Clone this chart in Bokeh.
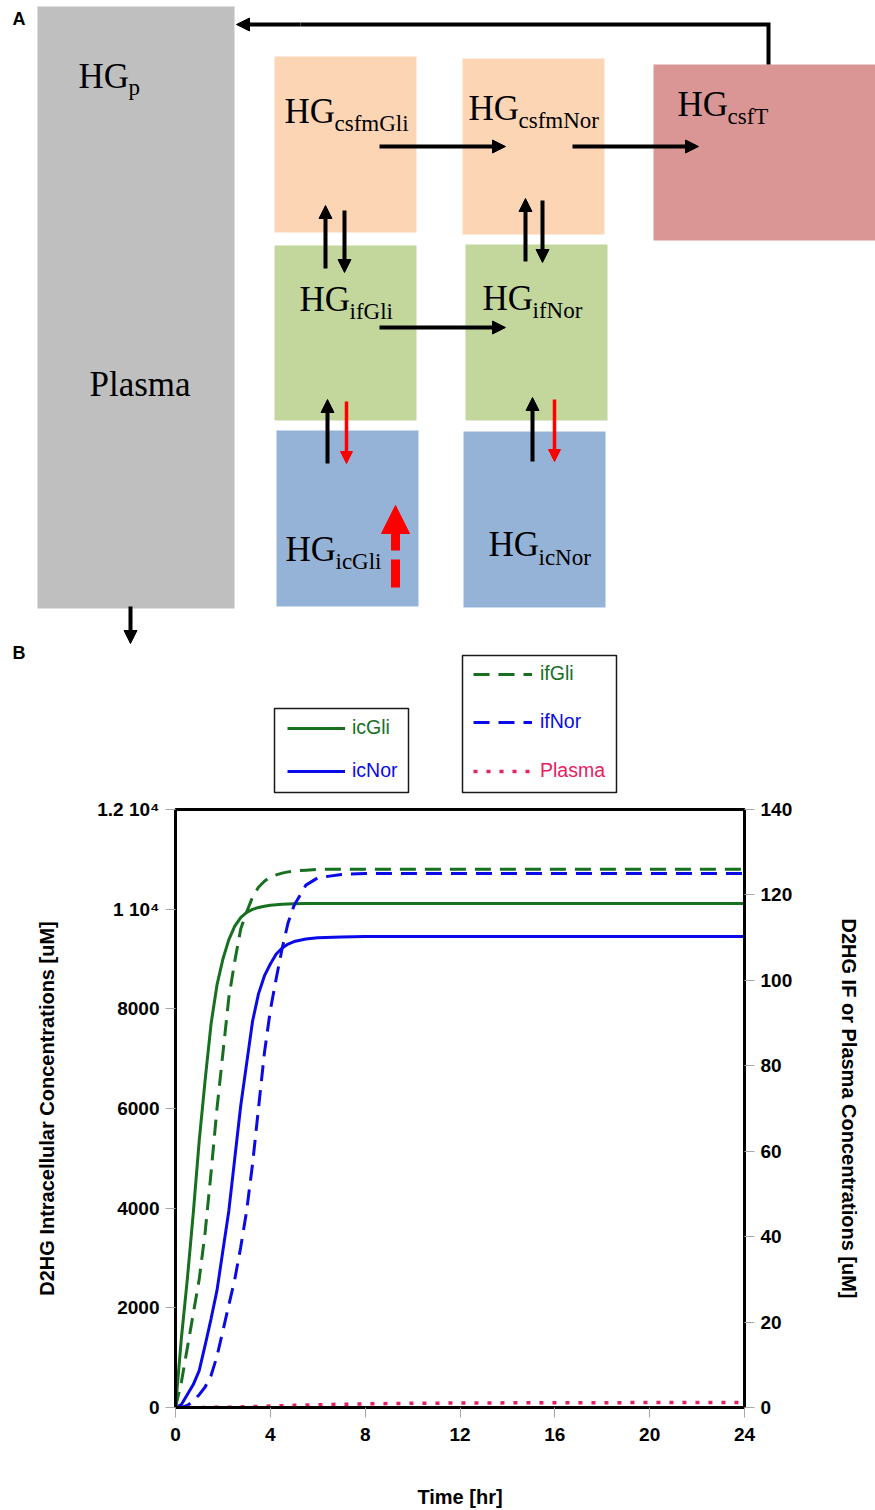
from bokeh.plotting import figure
from bokeh.models import (Range1d, LinearAxis, Arrow, NormalHead, Legend,
                          LegendItem, FixedTicker)
from bokeh.core.properties import value
from bokeh.embed import file_html
from bokeh.resources import INLINE

# ---------------- data (panel B) ----------------
time_hr = [0, 0.25, 0.5, 0.75, 1, 1.25, 1.5, 1.75, 2, 2.25, 2.5, 2.75, 3, 3.25,
           3.5, 3.75, 4, 4.25, 4.5, 4.75, 5, 5.5, 6, 7, 8, 10, 12, 16, 20, 24]
ic_gli = [0, 1400, 2580, 3900, 5350, 6570, 7700, 8480, 9000, 9390, 9660, 9830,
          9935, 9995, 10035, 10060, 10080, 10090, 10100, 10105, 10110, 10113,
          10115, 10115, 10115, 10115, 10115, 10115, 10115, 10115]
ic_nor = [0, 60, 260, 460, 740, 1250, 1780, 2350, 3150, 3950, 5000, 6050, 6900,
          7750, 8300, 8660, 8900, 9100, 9220, 9300, 9350, 9400, 9425, 9440,
          9450, 9450, 9450, 9450, 9450, 9450]
if_gli = [0, 6, 14, 22, 30, 41, 55, 70, 83, 96, 104.5, 112, 116, 119.5, 121.8,
          123.2, 124.2, 124.7, 125.1, 125.4, 125.6, 125.8, 126, 126, 126, 126,
          126, 126, 126, 126]
if_nor = [0, 0, 0.5, 1.5, 3.0, 4.8, 7.5, 12, 18, 24, 30, 37.5, 46, 57, 70, 83,
          93, 100.5, 107.5, 113.5, 117.5, 122.3, 124, 124.8, 125, 125, 125, 125,
          125, 125]
plasma = [0, 0, 0, 0, 0.01, 0.02, 0.03, 0.04, 0.06, 0.08, 0.1, 0.13, 0.16, 0.2,
          0.24, 0.28, 0.33, 0.37, 0.41, 0.45, 0.5, 0.58, 0.65, 0.76, 0.85, 0.98,
          1.05, 1.12, 1.15, 1.17]

x_ticks = [0, 4, 8, 12, 16, 20, 24]
left_ticks = [0, 2000, 4000, 6000, 8000, 10000, 12000]
left_tick_labels = {10000: "1 10\u2074", 12000: "1.2 10\u2074"}
right_ticks = [0, 20, 40, 60, 80, 100, 120, 140]

series_names = ["icGli", "icNor", "ifGli", "ifNor", "Plasma"]

# ---------------- diagram content (panel A) ----------------
compartments = ["p", "csfmGli", "csfmNor", "csfT", "ifGli", "ifNor", "icGli", "icNor"]

# ---------------- styles ----------------
GREEN = "#16701f"
BLUE = "#0a0ae8"
PINK = "#e8205f"
SANS = "Liberation Sans"
SERIF = "Liberation Serif"

PAGE_W = 875
A_H = 795
B_H = 715
HG_SIZE = 35
SUB_SIZE = 23
LETTER_SIZE = 18
BASE_FIX = 0.38   # baseline correction (fraction of font size)

# =============== Figure A (diagram + legends), pixel coordinates ===============
pa = figure(width=PAGE_W, height=A_H, x_range=Range1d(0, PAGE_W), y_range=Range1d(A_H, 0),
            x_axis_type=None, y_axis_type=None, output_backend="svg",
            toolbar_location=None, min_border=0, outline_line_color=None)
pa.xgrid.visible = False
pa.ygrid.visible = False

# boxes: left, right, top, bottom, colour
boxes = [
    (37, 234, 6, 608, "#bfbfbf"),
    (274, 416, 56, 232, "#fcd5b5"),
    (462, 604, 58, 234, "#fcd5b5"),
    (653, 880, 64, 240, "#d99694"),
    (274, 416, 245, 420, "#c3d69b"),
    (465, 607, 244, 420, "#c3d69b"),
    (276, 418, 430, 606, "#95b3d7"),
    (463, 605, 431, 607, "#95b3d7"),
]
pa.quad(left=[b[0] for b in boxes], right=[b[1] for b in boxes],
        top=[b[2] for b in boxes], bottom=[b[3] for b in boxes],
        fill_color=[b[4] for b in boxes], line_color=None)

# HG labels with subscripts: x, baseline of HG, baseline of subscript
hg_pos = [(78, 89, 96), (284, 124.5, 132), (468, 121, 129), (677, 117, 125),
          (299, 312.5, 320), (482, 311, 318.5), (285, 562, 570), (488, 557, 565.5)]
pa.text(x=[p[0] for p in hg_pos], y=[p[1] - BASE_FIX * HG_SIZE for p in hg_pos],
        text=["HG"] * len(hg_pos), text_font=value(SERIF),
        text_font_size=f"{HG_SIZE}px", text_baseline="alphabetic",
        text_align="left", text_color="black")
pa.text(x=[p[0] + 50 for p in hg_pos], y=[p[2] - BASE_FIX * SUB_SIZE for p in hg_pos],
        text=compartments, text_font=value(SERIF), text_font_size=f"{SUB_SIZE}px",
        text_baseline="alphabetic", text_align="left", text_color="black")
pa.text(x=[89], y=[397 - BASE_FIX * HG_SIZE], text=["Plasma"], text_font=value(SERIF),
        text_font_size=f"{HG_SIZE}px", text_baseline="alphabetic", text_align="left",
        text_color="black")

# panel letters
pa.text(x=[12, 12], y=[25 - BASE_FIX * LETTER_SIZE, 659 - BASE_FIX * LETTER_SIZE],
        text=["A", "B"], text_font=value(SANS), text_font_style="bold",
        text_font_size=f"{LETTER_SIZE}px", text_baseline="alphabetic")

# return flow from csfT to plasma
pa.line(x=[768, 768, 300], y=[64, 24, 24], line_width=4, line_color="black",
        line_join="miter")


def arrow(x0, y0, x1, y1, color="black", width=4, size=13, dash="solid"):
    pa.add_layout(Arrow(end=NormalHead(size=size, fill_color=color, line_color=color,
                                       line_width=1),
                        x_start=x0, y_start=y0, x_end=x1, y_end=y1,
                        line_color=color, line_width=width, line_dash=dash))


arrow(300, 24, 236, 24)
arrow(130, 606, 130, 643)
arrow(379, 146, 505, 146)
arrow(572, 146, 698, 146)
arrow(379, 327, 505, 327)
arrow(325, 268, 325, 205)
arrow(344, 210, 344, 272)
arrow(525, 261, 525, 198)
arrow(542, 200, 542, 262)
arrow(327, 463, 327, 399)
arrow(346, 401, 346, 463, color="#ff0000", width=3.5, size=12)
arrow(532, 461, 532, 397)
arrow(554, 399, 554, 461, color="#ff0000", width=3.5, size=12)
arrow(395, 587, 395, 505, color="#ff0000", width=9, size=28, dash="28 9")

# legend frames
pa.quad(left=[274, 462], right=[408, 616], top=[708, 655], bottom=[792, 792],
        fill_alpha=0, line_color="#1a1a1a", line_width=1.5)

# legend glyph proxies (styles of the panel B lines); one point => nothing drawn
styles = {
    "icGli": dict(line_color=GREEN, line_width=3, line_dash="solid"),
    "icNor": dict(line_color=BLUE, line_width=3, line_dash="solid"),
    "ifGli": dict(line_color=GREEN, line_width=3, line_dash="16 9"),
    "ifNor": dict(line_color=BLUE, line_width=3, line_dash="16 9"),
    "Plasma": dict(line_color=PINK, line_width=3.5, line_dash="4 9"),
}
label_colors = {"icGli": GREEN, "icNor": BLUE, "ifGli": GREEN, "ifNor": BLUE,
                "Plasma": PINK}
legend_loc = {"icGli": (287, 56, 58, 7), "icNor": (287, 13, 58, 7),
              "ifGli": (473, 110, 59, 8), "ifNor": (473, 62, 59, 8),
              "Plasma": (473, 13, 59, 8)}
for name in series_names:
    proxy = pa.line(x=[0], y=[0], **styles[name])
    vx, vy, gw, st = legend_loc[name]
    lg = Legend(items=[LegendItem(label=name, renderers=[proxy])], location=(vx, vy),
                padding=0, spacing=0, margin=0, glyph_width=gw, glyph_height=20,
                label_height=20, label_standoff=st, label_text_color=label_colors[name],
                label_text_font=SANS, label_text_font_size="19.5px",
                background_fill_alpha=0, border_line_alpha=0)
    pa.add_layout(lg)

# =============== Figure B (time courses) ===============
pb = figure(width=PAGE_W, height=B_H, x_range=Range1d(0, 24), y_range=Range1d(0, 12000),
            output_backend="svg", toolbar_location=None,
            min_border_left=175, min_border_right=131, min_border_top=14,
            min_border_bottom=103)
pb.extra_y_ranges = {"right": Range1d(0, 140)}
pb.xgrid.visible = False
pb.ygrid.visible = False
pb.outline_line_color = "black"
pb.outline_line_width = 3

pb.line(time_hr, ic_gli, **styles["icGli"])
pb.line(time_hr, ic_nor, **styles["icNor"])
pb.line(time_hr, if_gli, y_range_name="right", **styles["ifGli"])
pb.line(time_hr, if_nor, y_range_name="right", **styles["ifNor"])
pb.line(time_hr, plasma, y_range_name="right", **styles["Plasma"])

right_axis = LinearAxis(y_range_name="right")
pb.add_layout(right_axis, "right")

for ax in [pb.xaxis[0], pb.yaxis[0], right_axis]:
    ax.axis_line_width = 3
    ax.axis_line_color = "black"
    ax.major_tick_in = 0
    ax.major_tick_out = 10
    ax.major_tick_line_color = "#a8a8a8"
    ax.major_tick_line_width = 1
    ax.minor_tick_line_color = None
    ax.major_label_text_font = SANS
    ax.major_label_text_font_style = "bold"
    ax.major_label_text_font_size = "19px"
    ax.major_label_text_color = "black"
    ax.axis_label_text_font = SANS
    ax.axis_label_text_font_style = "bold"
    ax.axis_label_text_font_size = "20px"
    ax.axis_label_text_color = "black"
    ax.major_label_standoff = 6

pb.xaxis[0].ticker = FixedTicker(ticks=x_ticks)
pb.xaxis[0].axis_label = "Time [hr]"
pb.xaxis[0].major_label_standoff = 10
pb.xaxis[0].axis_label_standoff = 42

pb.yaxis[0].ticker = FixedTicker(ticks=left_ticks)
pb.yaxis[0].major_label_overrides = left_tick_labels
pb.yaxis[0].axis_label = "D2HG Intracellular Concentrations [uM]"
pb.yaxis[0].axis_label_standoff = 36

right_axis.ticker = FixedTicker(ticks=right_ticks)
right_axis.axis_label = "D2HG IF or Plasma Concentrations [uM]"
right_axis.axis_label_standoff = 43

open("out.html", "w").write(file_html([pa, pb], INLINE))
